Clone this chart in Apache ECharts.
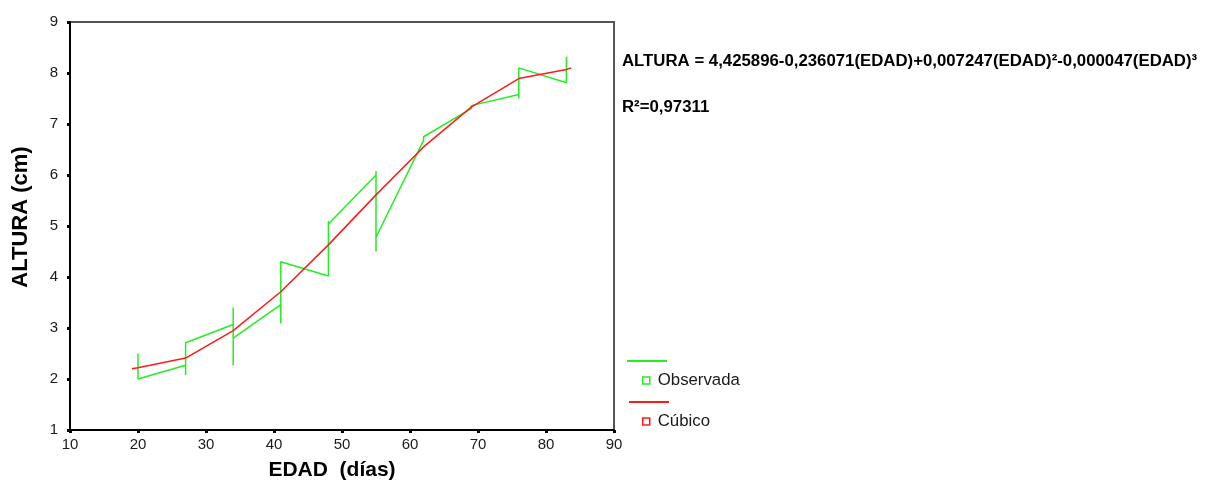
<!DOCTYPE html>
<html>
<head>
<meta charset="utf-8">
<script src="https://cdn.jsdelivr.net/npm/echarts@6/dist/echarts.min.js"></script>
<style>
html,body{margin:0;padding:0;background:#fff;}
#c{width:1209px;height:484px;}
</style>
</head>
<body>
<div id="c"></div>
<script>
// Observed data (in drawing order)
var ageObs = [20,20, 27,27,27, 34,34,34,34, 41,41,41, 48,48,48, 55,55,55,55, 62,62, 69,69, 76,76,76, 83,83];
var alturaObs = [2.50,2.00, 2.27,2.08,2.71, 3.07,3.40,2.27,2.80, 3.46,3.09,4.30, 4.02,5.10,5.04, 6.00,6.08,4.50,4.78, 6.68,6.75, 7.30,7.36, 7.58,7.50,8.10, 7.81,8.32];
// Cubic fit
var ageFit = [19.1, 20, 27, 34, 41, 48, 55, 62, 69, 76, 83, 83.7];
var alturaFit = [2.20, 2.22, 2.41, 2.95, 3.71, 4.63, 5.61, 6.55, 7.33, 7.89, 8.07, 8.10];
// Axis ticks
var xTicks = {min:10, max:90, interval:10};
var yTicks = {min:1, max:9, interval:1};
var seriesNames = ['Observada', 'Cúbico'];
var xTitle = 'EDAD  (días)';
var yTitle = 'ALTURA (cm)';
var equationText = 'ALTURA = 4,425896-0,236071(EDAD)+0,007247(EDAD)²-0,000047(EDAD)³';
var r2Text = 'R²=0,97311';

var FONT = '"Liberation Sans", Arial, sans-serif';
var GREEN = '#22ee22';
var RED = '#ff1a1a';

function pairs(xs, ys){ return xs.map(function(x,i){ return [x, ys[i]]; }); }

var chart = echarts.init(document.getElementById('c'), null, {renderer:'canvas'});
chart.setOption({
  animation: false,
  backgroundColor: '#fff',
  grid: {left:70, right:595, top:22, bottom:54, show:true, borderColor:'#555', borderWidth:2, backgroundColor:'transparent'},
  xAxis: {
    type:'value', min:xTicks.min, max:xTicks.max, interval:xTicks.interval,
    axisLine:{show:true, lineStyle:{color:'#000', width:2}},
    axisTick:{show:true, length:3, lineStyle:{color:'#000', width:3}},
    axisLabel:{fontFamily:FONT, fontSize:15, color:'#1a1a1a', margin:7},
    splitLine:{show:false}
  },
  yAxis: {
    type:'value', min:yTicks.min, max:yTicks.max, interval:yTicks.interval,
    axisLine:{show:true, lineStyle:{color:'#000', width:2}},
    axisTick:{show:true, length:3, lineStyle:{color:'#000', width:3}},
    axisLabel:{fontFamily:FONT, fontSize:15, color:'#1a1a1a', margin:12},
    splitLine:{show:false}
  },
  legend: {
    orient:'vertical', left:637, top:367, itemGap:24,
    itemWidth:7, itemHeight:7,
    textStyle:{fontFamily:FONT, fontSize:16.8, color:'#1a1a1a', padding:[0,0,0,3]},
    data:[
      {name:seriesNames[0], icon:'rect', itemStyle:{color:'#fff', borderColor:GREEN, borderWidth:1.5}},
      {name:seriesNames[1], icon:'rect', itemStyle:{color:'#fff', borderColor:RED, borderWidth:1.5}}
    ]
  },
  graphic: [
    {type:'line', shape:{x1:627, y1:361, x2:667, y2:361}, style:{stroke:GREEN, lineWidth:2}},
    {type:'line', shape:{x1:629, y1:402, x2:669, y2:402}, style:{stroke:RED, lineWidth:2}},
    {type:'text', x:622, y:61, style:{text:equationText, fontFamily:FONT, fontWeight:'bold', fontSize:16.8, fill:'#000', textAlign:'left', textVerticalAlign:'middle'}},
    {type:'text', x:622, y:107, style:{text:r2Text, fontFamily:FONT, fontWeight:'bold', fontSize:16.8, fill:'#000', textAlign:'left', textVerticalAlign:'middle'}},
    {type:'text', x:332, y:470, style:{text:xTitle, fontFamily:FONT, fontWeight:'bold', fontSize:21, fill:'#000', textAlign:'center', textVerticalAlign:'middle'}},
    {type:'text', x:21, y:217, rotation:Math.PI/2, style:{text:yTitle, fontFamily:FONT, fontWeight:'bold', fontSize:22, fill:'#000', textAlign:'center', textVerticalAlign:'middle'}}
  ],
  series: [
    {name:seriesNames[0], type:'line', data:pairs(ageObs, alturaObs), showSymbol:false, symbol:'none',
     lineStyle:{color:GREEN, width:1.5}, itemStyle:{color:GREEN}, z:2},
    {name:seriesNames[1], type:'line', data:pairs(ageFit, alturaFit), showSymbol:false, symbol:'none',
     lineStyle:{color:RED, width:1.5}, itemStyle:{color:RED}, z:3}
  ]
});
</script>
</body>
</html>
